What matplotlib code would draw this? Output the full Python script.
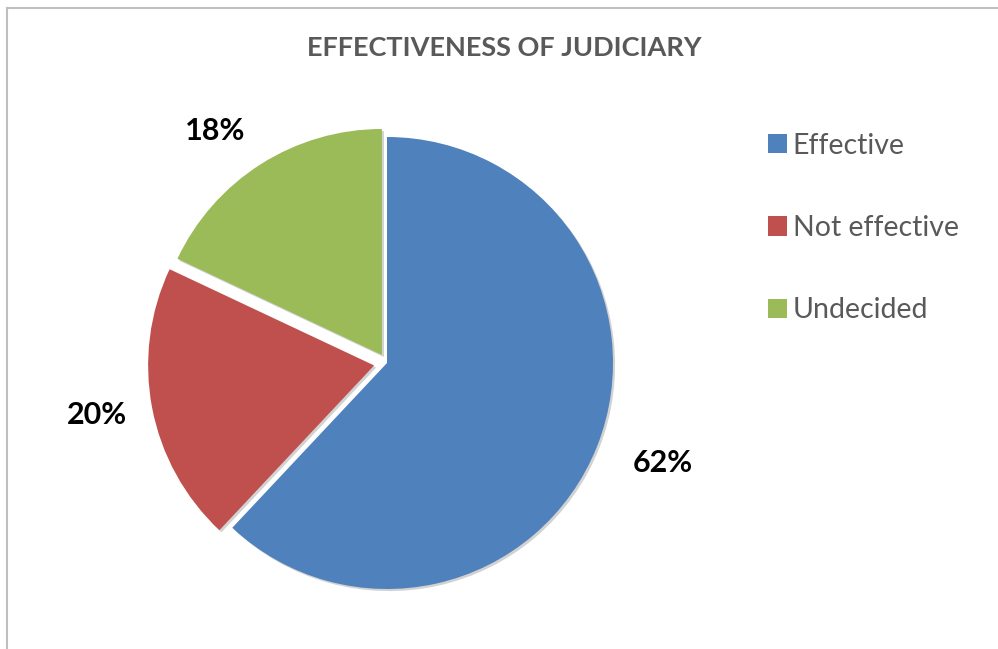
import numpy as np
import matplotlib
matplotlib.use("Agg")
import matplotlib.pyplot as plt
import matplotlib.patheffects as pe
from matplotlib.patches import Patch

plt.rcParams['font.family'] = ['Lato', 'DejaVu Sans']

# survey answers
categories = ["Effective", "Not effective", "Undecided"]
shares = [62, 20, 18]
colors = ["#4F81BD", "#C0504D", "#9BBB59"]
title = "EFFECTIVENESS OF JUDICIARY"

W, H = 998, 649
fig = plt.figure(figsize=(W / 100, H / 100), dpi=100)

# thin grey frame on the top and left edges of the chart area
fig.add_artist(plt.Line2D([7 / W, 1], [1 - 8 / H, 1 - 8 / H], color="#BFBFBF", lw=1.5))
fig.add_artist(plt.Line2D([7 / W, 7 / W], [0, 1 - 8 / H], color="#BFBFBF", lw=1.5))

# pie axes: radius 226 px, centred at (387, 363) px
r_px = 226
cx, cy = 387, 363
box = 620
ax = fig.add_axes([(cx - box / 2) / W, (H - cy - box / 2) / H, box / W, box / H])

wedges, _, autotexts = ax.pie(
    shares, colors=colors, startangle=90, counterclock=False,
    explode=[0.0, 0.058, 0.042], radius=1,
    autopct=lambda p: f"{p:.0f}%", pctdistance=1.2,
    wedgeprops=dict(linewidth=0),
    textprops=dict(fontsize=22, fontweight="bold", color="black"),
)
lim = box / 2 / r_px
ax.set_xlim(-lim, lim)
ax.set_ylim(-lim, lim)
ax.set_aspect("equal")
ax.axis("off")

for w in wedges:
    w.set_path_effects([
        pe.SimplePatchShadow(offset=(1.5, -1.5), shadow_rgbFace="#808080", alpha=0.35),
        pe.Normal(),
    ])

# outside-end labels: the label's corner nearest the pie sits on the mid-angle,
# measured from the un-exploded centre
for w, t in zip(wedges, autotexts):
    mid = np.deg2rad((w.theta1 + w.theta2) / 2)
    c, s = np.cos(mid), np.sin(mid)
    d = 1.17
    t.set_position((d * c, d * s))
    t.set_ha("left" if c > 0.3 else "right" if c < -0.3 else "center")
    t.set_va("baseline" if s > 0.4 else "top" if s < -0.4 else "center_baseline")

fig.text(504 / W, 1 - 48 / H, title, ha="center", va="center",
         fontsize=19.5, fontweight="bold", color="#595959")

handles = [Patch(facecolor=c, edgecolor="none") for c in colors]
fig.legend(handles, categories, loc="upper left",
           bbox_to_anchor=(742 / W, 1 - 107 / H), frameon=False,
           fontsize=20.5, labelcolor="#595959",
           handlelength=0.68, handleheight=0.68, handletextpad=0.2,
           labelspacing=1.98)

fig.savefig("out.png", dpi=100, facecolor="white")
